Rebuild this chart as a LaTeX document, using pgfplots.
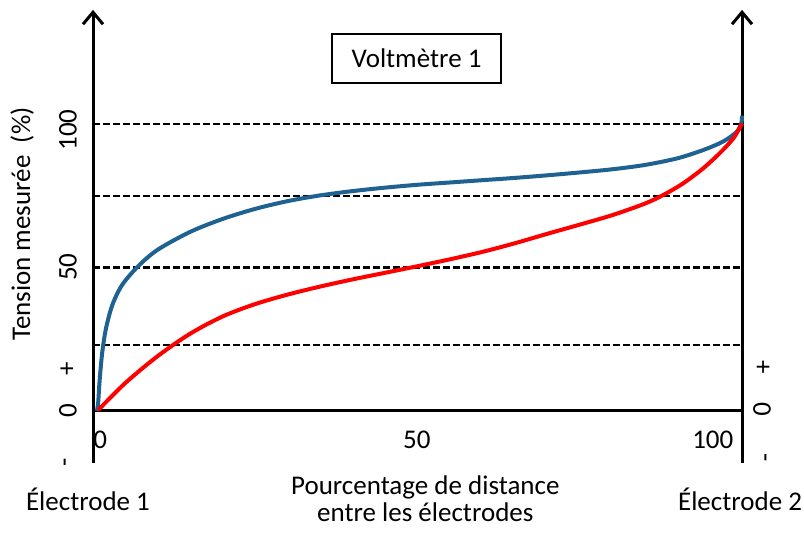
\documentclass[border=0pt]{standalone}
\usepackage{fontspec}
\setmainfont{Carlito}
\usepackage{pgfplots}
\pgfplotsset{compat=1.18}
\usetikzlibrary{arrows.meta}
\definecolor{bluec}{RGB}{31,98,145}
\definecolor{redc}{RGB}{255,0,0}
\begin{document}
\begin{tikzpicture}[lab/.style={font=\fontsize{13.5pt}{13.5pt}\selectfont, inner sep=0pt}]
\begin{axis}[scale only axis, width=402pt, height=266.5pt,
  xmin=-14.33, xmax=109.55, ymin=-42.55, ymax=143.35,
  hide axis, clip=false]
% dashed guide lines
\draw[black, line width=1.15pt, dash pattern=on 3.4pt off 1.6pt] (axis cs:0,100) -- (axis cs:100,100);
\draw[black, line width=1.15pt, dash pattern=on 3.4pt off 1.6pt] (axis cs:0,75) -- (axis cs:100,75);
\draw[black, line width=1.15pt, dash pattern=on 3.4pt off 1.6pt] (axis cs:0,50) -- (axis cs:100,50);
\draw[black, line width=0.7pt, dash pattern=on 3.4pt off 1.6pt] (axis cs:0,23) -- (axis cs:100,23);
% axes
\draw[black, line width=1.5pt] (axis cs:0,0) -- (axis cs:100,0);
\draw[black, line width=1.5pt, -{Straight Barb[length=6pt,width=10pt]}] (axis cs:0,-18.1) -- (axis cs:0,139.9);
\draw[black, line width=1.5pt, -{Straight Barb[length=6pt,width=10pt]}] (axis cs:100,-18.1) -- (axis cs:100,139.9);
% curves
\addplot[color=bluec, line width=2pt, smooth, tension=0.5, line join=round] coordinates {
(0.6,0) (0.8,3) (1.0,10) (1.4,20) (2.0,28.8) (3.0,37.1) (4.5,44) (7,50.6)
(10,56.3) (15,62.5) (20,67) (25,70.5) (30,73.2) (35,75.2) (40,76.7) (45,77.9)
(50,78.9) (55,79.7) (60,80.5) (65,81.3) (70,82.2) (75,83.2) (80,84.3) (85,85.8)
(90,88.1) (94,91) (97.1,94.0) (99.2,97.4) (99.9,100.5) (100,103)};
\addplot[color=redc, line width=2pt, smooth, tension=0.5, line join=round] coordinates {
(0.8,0.3) (5,9.8) (10,19.2) (15,27.0) (20,33.0) (25,37.3) (30,40.6) (35,43.4)
(40,45.9) (45,48.2) (50,50.5) (55,52.9) (60,55.5) (65,58.5) (70,61.8) (75,65.0)
(80,68.3) (85,72.3) (88,75.5) (91,79.5) (94,84.6) (96.6,90.0) (98.7,95.2) (100,100.3)};
% left labels
\node[lab, rotate=90] at (axis cs:-10.94,65.2) {Tension mesurée\ \ (\%)};
\node[lab, rotate=90] at (axis cs:-3.85,0) {0};
\node[lab, rotate=90] at (axis cs:-3.85,14.6) {+};
\node[lab, rotate=90] at (axis cs:-3.85,-17.8) {-};
\node[lab, rotate=90] at (axis cs:-3.85,50.2) {50};
\node[lab, rotate=90] at (axis cs:-3.85,98) {100};
% right labels
\node[lab, rotate=-90] at (axis cs:103.1,15.3) {+};
\node[lab, rotate=-90] at (axis cs:103.1,0.5) {0};
\node[lab, rotate=-90] at (axis cs:103.1,-16.4) {-};
% bottom labels
\node[lab] at (axis cs:1.1,-10.1) {0};
\node[lab] at (axis cs:49.9,-10.1) {50};
\node[lab] at (axis cs:95.5,-10.1) {100};
\node[lab] at (axis cs:-0.77,-30.7) {Électrode 1};
\node[lab] at (axis cs:99.7,-30.7) {Électrode 2};
\node[lab, align=center] at (axis cs:51.2,-30.5) {Pourcentage de distance\\[0pt]entre les électrodes};
% title box
\node[lab, draw=black, line width=0.8pt, minimum width=84.5pt, minimum height=24.5pt] at (axis cs:49.85,122.95) {Voltmètre 1};
\coordinate (bl) at (axis cs:-14.33,-42.55);
\coordinate (tr) at (axis cs:109.55,143.35);
\end{axis}
\pgfresetboundingbox
\useasboundingbox (bl) rectangle (tr);
\end{tikzpicture}
\end{document}
